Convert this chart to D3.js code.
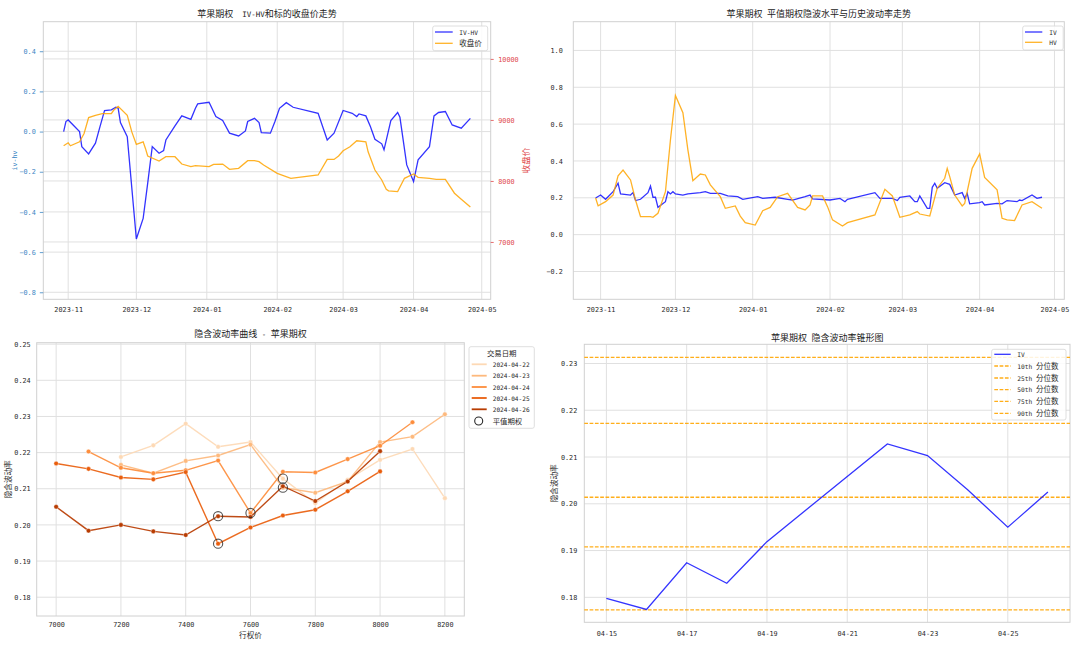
<!DOCTYPE html>
<html><head><meta charset="utf-8">
<script src="https://cdn.jsdelivr.net/npm/d3@7"></script>
<style>body{margin:0;background:#fff} svg{display:block} text{white-space:pre}</style>
</head><body>
<svg id="c" width="1080" height="646"></svg>
<script>
// ---------------- DATA ----------------
// Top-left: IV-HV and underlying close
const ivhvDates = ["2023-10-30","2023-10-31","2023-11-01","2023-11-06","2023-11-07","2023-11-10","2023-11-13","2023-11-15","2023-11-17","2023-11-20","2023-11-22","2023-11-23","2023-11-24","2023-11-27","2023-12-01","2023-12-04","2023-12-06","2023-12-08","2023-12-11","2023-12-13","2023-12-14","2023-12-18","2023-12-21","2023-12-25","2023-12-27","2023-12-28","2024-01-02","2024-01-05","2024-01-08","2024-01-11","2024-01-15","2024-01-18","2024-01-19","2024-01-22","2024-01-24","2024-01-25","2024-01-29","2024-01-31","2024-02-02","2024-02-05","2024-02-08","2024-02-19","2024-02-23","2024-02-26","2024-03-01","2024-03-05","2024-03-07","2024-03-08","2024-03-11","2024-03-13","2024-03-15","2024-03-18","2024-03-19","2024-03-22","2024-03-25","2024-03-26","2024-03-29","2024-04-01","2024-04-03","2024-04-08","2024-04-10","2024-04-12","2024-04-15","2024-04-18","2024-04-22","2024-04-26"];
const ivhvValues = [0.000,0.050,0.058,0.000,-0.075,-0.111,-0.058,0.025,0.105,0.108,0.121,0.116,0.045,-0.025,-0.535,-0.432,-0.257,-0.075,-0.108,-0.095,-0.042,0.028,0.078,0.061,0.116,0.138,0.146,0.075,0.055,-0.008,-0.022,0.003,0.050,0.066,0.045,-0.005,-0.008,0.050,0.116,0.144,0.121,0.091,-0.042,-0.008,0.105,0.091,0.075,0.088,0.078,0.025,-0.038,-0.061,-0.091,0.055,0.095,0.071,-0.166,-0.249,-0.141,-0.075,0.078,0.095,0.100,0.033,0.017,0.066];

const closeDates = ["2023-10-30","2023-11-01","2023-11-02","2023-11-06","2023-11-08","2023-11-10","2023-11-13","2023-11-16","2023-11-20","2023-11-21","2023-11-23","2023-11-27","2023-11-29","2023-12-01","2023-12-04","2023-12-05","2023-12-06","2023-12-11","2023-12-14","2023-12-18","2023-12-21","2023-12-25","2023-12-27","2024-01-02","2024-01-04","2024-01-08","2024-01-11","2024-01-15","2024-01-19","2024-01-22","2024-01-24","2024-01-26","2024-02-01","2024-02-07","2024-02-19","2024-02-23","2024-02-26","2024-02-28","2024-03-01","2024-03-04","2024-03-07","2024-03-11","2024-03-12","2024-03-15","2024-03-18","2024-03-20","2024-03-21","2024-03-25","2024-03-28","2024-04-01","2024-04-03","2024-04-08","2024-04-11","2024-04-15","2024-04-19","2024-04-22","2024-04-26"];
const closeValues = [8576,8625,8576,8641,8777,9038,9076,9103,9103,9158,9223,9076,8804,8598,8641,8533,8408,8326,8397,8397,8277,8234,8250,8234,8272,8277,8190,8206,8332,8332,8315,8261,8125,8043,8098,8353,8353,8408,8495,8560,8658,8641,8478,8179,8016,7864,7837,7826,8043,8114,8060,8043,8027,8027,7799,7701,7571];

// Top-right: ATM IV and HV
const ivDates = ["2023-10-30","2023-11-01","2023-11-03","2023-11-06","2023-11-08","2023-11-09","2023-11-13","2023-11-14","2023-11-15","2023-11-17","2023-11-20","2023-11-21","2023-11-22","2023-11-23","2023-11-24","2023-11-27","2023-11-28","2023-11-29","2023-11-30","2023-12-01","2023-12-04","2023-12-06","2023-12-11","2023-12-13","2023-12-15","2023-12-19","2023-12-22","2023-12-26","2023-12-28","2024-01-03","2024-01-05","2024-01-10","2024-01-15","2024-01-17","2024-01-22","2024-01-24","2024-01-25","2024-02-01","2024-02-05","2024-02-07","2024-02-08","2024-02-19","2024-02-21","2024-02-26","2024-02-28","2024-02-29","2024-03-04","2024-03-06","2024-03-07","2024-03-08","2024-03-11","2024-03-12","2024-03-13","2024-03-14","2024-03-15","2024-03-18","2024-03-20","2024-03-22","2024-03-25","2024-03-26","2024-03-27","2024-03-28","2024-04-01","2024-04-02","2024-04-03","2024-04-08","2024-04-10","2024-04-12","2024-04-16","2024-04-17","2024-04-18","2024-04-22","2024-04-24","2024-04-26"];
const ivValues = [0.199,0.215,0.192,0.233,0.279,0.221,0.215,0.228,0.185,0.192,0.228,0.264,0.203,0.203,0.148,0.179,0.233,0.221,0.233,0.221,0.215,0.221,0.228,0.233,0.224,0.224,0.210,0.206,0.192,0.206,0.197,0.203,0.192,0.188,0.206,0.215,0.194,0.188,0.197,0.179,0.192,0.228,0.197,0.197,0.185,0.203,0.210,0.179,0.179,0.210,0.143,0.143,0.257,0.279,0.252,0.282,0.273,0.215,0.228,0.197,0.224,0.167,0.174,0.179,0.161,0.170,0.167,0.185,0.179,0.188,0.185,0.215,0.197,0.203];

const hvDates = ["2023-10-30","2023-10-31","2023-11-03","2023-11-06","2023-11-08","2023-11-10","2023-11-13","2023-11-15","2023-11-17","2023-11-21","2023-11-22","2023-11-24","2023-11-27","2023-11-29","2023-12-01","2023-12-04","2023-12-06","2023-12-08","2023-12-11","2023-12-13","2023-12-15","2023-12-19","2023-12-21","2023-12-25","2023-12-27","2023-12-29","2024-01-02","2024-01-05","2024-01-08","2024-01-11","2024-01-15","2024-01-19","2024-01-22","2024-01-24","2024-01-25","2024-01-29","2024-01-31","2024-02-02","2024-02-06","2024-02-08","2024-02-19","2024-02-23","2024-02-26","2024-02-29","2024-03-04","2024-03-07","2024-03-08","2024-03-12","2024-03-15","2024-03-18","2024-03-19","2024-03-20","2024-03-22","2024-03-25","2024-03-26","2024-03-29","2024-04-01","2024-04-03","2024-04-08","2024-04-10","2024-04-12","2024-04-15","2024-04-18","2024-04-22","2024-04-26"];
const hvValues = [0.199,0.156,0.179,0.215,0.319,0.351,0.297,0.188,0.098,0.098,0.094,0.116,0.233,0.514,0.755,0.662,0.460,0.293,0.329,0.324,0.270,0.206,0.143,0.156,0.101,0.065,0.052,0.130,0.148,0.206,0.224,0.148,0.134,0.161,0.210,0.210,0.152,0.080,0.047,0.065,0.107,0.246,0.210,0.094,0.107,0.125,0.112,0.101,0.252,0.306,0.360,0.315,0.215,0.156,0.170,0.360,0.438,0.311,0.243,0.089,0.080,0.076,0.161,0.179,0.143];

const topMonthTicks = ["2023-11","2023-12","2024-01","2024-02","2024-03","2024-04","2024-05"];
const tlLeftTicks = [-0.8,-0.6,-0.4,-0.2,0.0,0.2,0.4];
const tlRightTicks = [7000,8000,9000,10000];
const trTicks = [-0.2,0.0,0.2,0.4,0.6,0.8,1.0];

// Bottom-left: IV smile per trading date
const smileDates = ["2024-04-22","2024-04-23","2024-04-24","2024-04-25","2024-04-26"];
const smileStrikes0422 = [7200,7300,7400,7500,7600,7700,7800,7900,8000,8100,8200];
const smileIv0422 = [0.2188,0.2220,0.2280,0.2216,0.2229,0.2128,0.2060,0.2125,0.2180,0.2210,0.2074];
const smileStrikes0423 = [7200,7300,7400,7500,7600,7700,7800,7900,8000,8100,8200];
const smileIv0423 = [0.2166,0.2143,0.2177,0.2192,0.2222,0.2103,0.2089,0.2120,0.2229,0.2244,0.2306];
const smileStrikes0424 = [7100,7200,7300,7400,7500,7600,7700,7800,7900,8000,8100];
const smileIv0424 = [0.2203,0.2158,0.2143,0.2151,0.2178,0.2033,0.2147,0.2145,0.2182,0.2219,0.2284];
const smileStrikes0425 = [7000,7100,7200,7300,7400,7500,7600,7700,7800,7900,8000];
const smileIv0425 = [0.2170,0.2155,0.2131,0.2126,0.2146,0.1948,0.1993,0.2026,0.2042,0.2093,0.2148];
const smileStrikes0426 = [7000,7100,7200,7300,7400,7500,7600,7700,7800,7900,8000];
const smileIv0426 = [0.2050,0.1984,0.2000,0.1982,0.1972,0.2024,0.2022,0.2107,0.2066,0.2120,0.2204];
const atmStrikes = [7700,7700,7600,7500,7500];
const smileColors = ["#fdd9b5","#fdb97d","#fd8d3c","#e95e0d","#b83c02"];
const strikeTicks = [7000,7200,7400,7600,7800,8000,8200];
const blYTicks = [0.18,0.19,0.20,0.21,0.22,0.23,0.24,0.25];

// Bottom-right: IV cone
const coneDates = ["2024-04-15","2024-04-16","2024-04-17","2024-04-18","2024-04-19","2024-04-22","2024-04-23","2024-04-24","2024-04-25","2024-04-26"];
const coneIv = [0.1798,0.1774,0.1874,0.1830,0.1919,0.2128,0.2103,0.2030,0.1950,0.2025];
const pctLabels = ["10th 分位数","25th 分位数","50th 分位数","75th 分位数","90th 分位数"];
const pctValues = [0.1773,0.1908,0.2014,0.2172,0.2313];
const coneXTicks = ["2024-04-15","2024-04-17","2024-04-19","2024-04-21","2024-04-23","2024-04-25"];
const brYTicks = [0.18,0.19,0.20,0.21,0.22,0.23];

// ---------------- DRAWING ----------------
const svg = d3.select('#c');
svg.append('rect').attr('width',1080).attr('height',646).attr('fill','#fff');
const GRID='#e0e0e0', SPINE='#d0d0d0', TXT='#2a2a2a';
const MONO='"DejaVu Sans Mono", monospace', CJKF='"Noto Sans CJK SC", sans-serif';
const TFS=6.8;
const parse = d3.timeParse('%Y-%m-%d'), parseM = d3.timeParse('%Y-%m');
const CJK = /[\u3000-\u9fff\uff00-\uffef]/;

function mixed(sel, str, size){
  const runs=[]; let cur='', cc=null;
  for (const ch of str){ const c=CJK.test(ch); if(cc===null||c===cc){cur+=ch;cc=c;} else {runs.push([cur,cc]);cur=ch;cc=c;} }
  if(cur) runs.push([cur,cc]);
  runs.forEach(([t,c])=>sel.append('tspan').text(t).attr('font-family',c?CJKF:MONO).attr('font-size',c?size:size*0.83));
  return sel;
}
function text(x,y,str,size,opts={}){
  const t=svg.append('text').attr('x',x).attr('y',y).attr('fill',opts.fill||'#222')
    .attr('text-anchor',opts.anchor||'start').attr('xml:space','preserve');
  if(opts.rotate) t.attr('transform',`rotate(-90,${x},${y})`);
  return mixed(t,str,size);
}
function padExt(ext,f=0.05){const s=ext[1]-ext[0];return [ext[0]-s*f,ext[1]+s*f];}
function frame(p){ return svg.append('rect').attr('x',p.x0).attr('y',p.y0).attr('width',p.x1-p.x0).attr('height',p.y1-p.y0).attr('fill','none').attr('stroke',SPINE).attr('stroke-width',1); }
function gridX(p,x,vals){ svg.append('g').selectAll('line').data(vals).join('line').attr('x1',d=>x(d)).attr('x2',d=>x(d)).attr('y1',p.y0).attr('y2',p.y1).attr('stroke',GRID).attr('stroke-width',1); }
function gridY(p,y,vals){ svg.append('g').selectAll('line').data(vals).join('line').attr('y1',d=>y(d)).attr('y2',d=>y(d)).attr('x1',p.x0).attr('x2',p.x1).attr('stroke',GRID).attr('stroke-width',1); }
function styleAxis(g,color){ g.select('.domain').remove(); g.selectAll('text').attr('font-family',MONO).attr('font-size',TFS).attr('fill',color||TXT); g.selectAll('.tick line').attr('stroke',color||TXT).attr('stroke-width',0.8); }
function legendBox(x,y,w,h){ svg.append('rect').attr('x',x).attr('y',y).attr('width',w).attr('height',h).attr('rx',2).attr('fill','#fff').attr('fill-opacity',0.85).attr('stroke','#d6d6d6').attr('stroke-width',0.8); }
const zip=(ds,vs)=>ds.map((d,i)=>({x:parse(d),v:vs[i]}));

// ===== Panel TL =====
{
  const p={x0:43.3,x1:490.7,y0:21.7,y1:299.3};
  const a=zip(ivhvDates,ivhvValues), b=zip(closeDates,closeValues);
  const x=d3.scaleTime().domain(padExt(d3.extent(a.concat(b),d=>+d.x))).range([p.x0,p.x1]);
  const y=d3.scaleLinear().domain([-0.835,0.547]).range([p.y1,p.y0]);
  const yr=d3.scaleLinear().domain([6060,10610]).range([p.y1,p.y0]);
  const mt=topMonthTicks.map(parseM);
  gridX(p,x,mt); gridY(p,y,tlLeftTicks); gridY(p,yr,tlRightTicks); frame(p);
  svg.append('path').datum(a).attr('d',d3.line().x(d=>x(d.x)).y(d=>y(d.v))).attr('fill','none').attr('stroke','blue').attr('stroke-opacity',0.8).attr('stroke-width',1.3);
  svg.append('path').datum(b).attr('d',d3.line().x(d=>x(d.x)).y(d=>yr(d.v))).attr('fill','none').attr('stroke','orange').attr('stroke-opacity',0.85).attr('stroke-width',1.3);
  svg.append('g').attr('transform',`translate(${p.x0},0)`).call(d3.axisLeft(y).tickValues(tlLeftTicks).tickFormat(d3.format('.1f')).tickSize(3.5).tickPadding(4)).call(g=>styleAxis(g,'#3b86c4'));
  svg.append('g').attr('transform',`translate(${p.x1},0)`).call(d3.axisRight(yr).tickValues(tlRightTicks).tickFormat(d3.format('d')).tickSize(3).tickPadding(4.5)).call(g=>styleAxis(g,'#e0474a'));
  svg.append('g').attr('transform',`translate(0,${p.y1})`).call(d3.axisBottom(x).tickValues(mt).tickFormat(d3.timeFormat('%Y-%m')).tickSize(0).tickPadding(8.3)).call(g=>styleAxis(g));
  text((p.x0+p.x1)/2,17.2,'苹果期权  IV-HV和标的收盘价走势',9,{anchor:'middle'});
  text(16.5,160.5,'iv-hv',8,{anchor:'middle',rotate:true,fill:'#3b86c4'});
  text(529,160.5,'收盘价',8.5,{anchor:'middle',rotate:true,fill:'#e0474a'});
  legendBox(432.7,26,55,24.7);
  svg.append('line').attr('x1',435).attr('x2',452.7).attr('y1',32).attr('y2',32).attr('stroke','blue').attr('stroke-opacity',0.8).attr('stroke-width',1.3);
  svg.append('line').attr('x1',435).attr('x2',452.7).attr('y1',43.3).attr('y2',43.3).attr('stroke','orange').attr('stroke-opacity',0.85).attr('stroke-width',1.3);
  text(459.3,34.6,'IV-HV',7.5,{fill:TXT});
  text(459.3,46,'收盘价',7.5,{fill:TXT});
}

// ===== Panel TR =====
{
  const p={x0:573.3,x1:1064.3,y0:21.7,y1:299.3};
  const a=zip(ivDates,ivValues), b=zip(hvDates,hvValues);
  const x=d3.scaleTime().domain(padExt(d3.extent(a.concat(b),d=>+d.x))).range([p.x0,p.x1]);
  const y=d3.scaleLinear().domain([-0.351,1.156]).range([p.y1,p.y0]);
  const mt=topMonthTicks.map(parseM);
  gridX(p,x,mt); gridY(p,y,trTicks); frame(p);
  svg.append('path').datum(a).attr('d',d3.line().x(d=>x(d.x)).y(d=>y(d.v))).attr('fill','none').attr('stroke','blue').attr('stroke-opacity',0.8).attr('stroke-width',1.3);
  svg.append('path').datum(b).attr('d',d3.line().x(d=>x(d.x)).y(d=>y(d.v))).attr('fill','none').attr('stroke','orange').attr('stroke-opacity',0.85).attr('stroke-width',1.3);
  svg.append('g').attr('transform',`translate(${p.x0},0)`).call(d3.axisLeft(y).tickValues(trTicks).tickFormat(d3.format('.1f')).tickSize(0).tickPadding(10.5)).call(g=>styleAxis(g));
  svg.append('g').attr('transform',`translate(0,${p.y1})`).call(d3.axisBottom(x).tickValues(mt).tickFormat(d3.timeFormat('%Y-%m')).tickSize(0).tickPadding(8.3)).call(g=>styleAxis(g));
  text((p.x0+p.x1)/2,17.2,'苹果期权 平值期权隐波水平与历史波动率走势',9,{anchor:'middle'});
  legendBox(1022.7,26,40.5,24);
  svg.append('line').attr('x1',1025).attr('x2',1042.3).attr('y1',32).attr('y2',32).attr('stroke','blue').attr('stroke-opacity',0.8).attr('stroke-width',1.3);
  svg.append('line').attr('x1',1025).attr('x2',1042.3).attr('y1',42.3).attr('y2',42.3).attr('stroke','orange').attr('stroke-opacity',0.85).attr('stroke-width',1.3);
  text(1049.3,34.6,'IV',7.5,{fill:TXT});
  text(1049.3,44.9,'HV',7.5,{fill:TXT});
}

// ===== Panel BL =====
{
  const p={x0:36.7,x1:464.3,y0:342.7,y1:616};
  const strikesAll=[smileStrikes0422,smileStrikes0423,smileStrikes0424,smileStrikes0425,smileStrikes0426];
  const ivAll=[smileIv0422,smileIv0423,smileIv0424,smileIv0425,smileIv0426];
  const series=smileDates.map((d,i)=>({date:d,color:smileColors[i],pts:strikesAll[i].map((k,j)=>({k,v:ivAll[i][j]})),atm:atmStrikes[i]}));
  const x=d3.scaleLinear().domain(padExt(d3.extent(strikesAll.flat()))).range([p.x0,p.x1]);
  const y=d3.scaleLinear().domain([0.1748,0.2504]).range([p.y1,p.y0]);
  gridX(p,x,strikeTicks); gridY(p,y,blYTicks); frame(p);
  const line=d3.line().x(d=>x(d.k)).y(d=>y(d.v));
  series.forEach(s=>{
    svg.append('path').datum(s.pts).attr('d',line).attr('fill','none').attr('stroke',s.color).attr('stroke-width',1.4).attr('stroke-opacity',0.92);
    svg.append('g').selectAll('circle').data(s.pts).join('circle').attr('cx',d=>x(d.k)).attr('cy',d=>y(d.v)).attr('r',2.3).attr('fill',s.color).attr('stroke','#fff').attr('stroke-width',0.4);
  });
  series.forEach(s=>{
    const pt=s.pts.find(d=>d.k===s.atm);
    svg.append('circle').attr('cx',x(pt.k)).attr('cy',y(pt.v)).attr('r',4.6).attr('fill','none').attr('stroke','#2a2a2a').attr('stroke-opacity',0.8).attr('stroke-width',1.1);
  });
  svg.append('g').attr('transform',`translate(${p.x0},0)`).call(d3.axisLeft(y).tickValues(blYTicks).tickFormat(d3.format('.2f')).tickSize(0).tickPadding(6)).call(g=>styleAxis(g));
  svg.append('g').attr('transform',`translate(0,${p.y1})`).call(d3.axisBottom(x).tickValues(strikeTicks).tickFormat(d3.format('d')).tickSize(0).tickPadding(6.6)).call(g=>styleAxis(g));
  text((p.x0+p.x1)/2,336.5,'隐含波动率曲线 - 苹果期权',9,{anchor:'middle'});
  text(11.5,479.3,'隐含波动率',7.6,{anchor:'middle',rotate:true,fill:TXT});
  text(250.5,637.8,'行权价',7.6,{anchor:'middle',fill:TXT});
  // legend
  legendBox(469,346.7,65.3,81.6);
  text(501.7,356,'交易日期',7.4,{anchor:'middle',fill:TXT});
  const ly=[364.3,375.7,387,398,409.3];
  series.forEach((s,i)=>{
    svg.append('line').attr('x1',471.7).attr('x2',486.7).attr('y1',ly[i]).attr('y2',ly[i]).attr('stroke',s.color).attr('stroke-width',1.8);
    text(492.7,ly[i]+2.5,s.date,7.4,{fill:TXT});
  });
  svg.append('circle').attr('cx',478.7).attr('cy',421).attr('r',4).attr('fill','none').attr('stroke','#2a2a2a').attr('stroke-width',1.1);
  text(492.7,423.6,'平值期权',7.4,{fill:TXT});
}

// ===== Panel BR =====
{
  const p={x0:584.3,x1:1070,y0:344.3,y1:622.3};
  const a=zip(coneDates,coneIv);
  const x=d3.scaleTime().domain(padExt(d3.extent(a,d=>+d.x))).range([p.x0,p.x1]);
  const y=d3.scaleLinear().domain([0.17466,0.2341]).range([p.y1,p.y0]);
  const xt=coneXTicks.map(parse);
  gridX(p,x,xt); gridY(p,y,brYTicks); frame(p);
  svg.append('g').selectAll('line').data(pctValues).join('line').attr('x1',p.x0).attr('x2',p.x1).attr('y1',d=>y(d)).attr('y2',d=>y(d)).attr('stroke','#ffa500').attr('stroke-opacity',0.9).attr('stroke-width',1.3).attr('stroke-dasharray','3.7,1.6');
  svg.append('path').datum(a).attr('d',d3.line().x(d=>x(d.x)).y(d=>y(d.v))).attr('fill','none').attr('stroke','blue').attr('stroke-opacity',0.8).attr('stroke-width',1.3);
  svg.append('g').attr('transform',`translate(${p.x0},0)`).call(d3.axisLeft(y).tickValues(brYTicks).tickFormat(d3.format('.2f')).tickSize(0).tickPadding(7)).call(g=>styleAxis(g));
  svg.append('g').attr('transform',`translate(0,${p.y1})`).call(d3.axisBottom(x).tickValues(xt).tickFormat(d3.timeFormat('%m-%d')).tickSize(0).tickPadding(8.6)).call(g=>styleAxis(g));
  text((p.x0+p.x1)/2,340.5,'苹果期权 隐含波动率锥形图',9,{anchor:'middle'});
  text(557.5,483.3,'隐含波动率',7.6,{anchor:'middle',rotate:true,fill:TXT});
  legendBox(991.7,349.3,74.3,70.7);
  const ly=[354.3,366,378,389.7,401.3,413.3];
  svg.append('line').attr('x1',994.3).attr('x2',1010.7).attr('y1',ly[0]).attr('y2',ly[0]).attr('stroke','blue').attr('stroke-opacity',0.8).attr('stroke-width',1.3);
  text(1017.3,ly[0]+2.6,'IV',7.5,{fill:TXT});
  pctLabels.forEach((l,i)=>{
    svg.append('line').attr('x1',994.3).attr('x2',1010.7).attr('y1',ly[i+1]).attr('y2',ly[i+1]).attr('stroke','#ffa500').attr('stroke-opacity',0.9).attr('stroke-width',1.3).attr('stroke-dasharray','3.7,1.6');
    text(1017.3,ly[i+1]+2.6,l,7.5,{fill:TXT});
  });
}
</script>
</body></html>
